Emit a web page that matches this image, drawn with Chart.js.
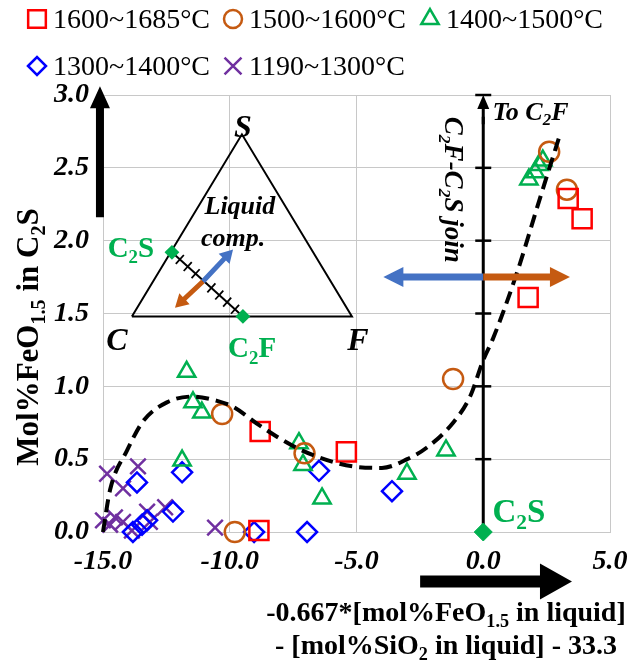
<!DOCTYPE html>
<html>
<head>
<meta charset="utf-8">
<script src="https://cdn.jsdelivr.net/npm/chart.js@4.4.0/dist/chart.umd.min.js"></script>
<style>
  body { margin: 0; background: #fff; }
  #wrap { width: 630px; height: 663px; }
</style>
</head>
<body>
<div id="wrap"><canvas id="chart"></canvas></div>
<script>
const SERIF = "'Liberation Serif', 'Times New Roman', serif";

// axis ticks
const xTickVals = [-15, -10, -5, 0, 5];
const yTickVals = [0, 0.5, 1, 1.5, 2, 2.5, 3];

// measured points, one pair of arrays per temperature range
const seriesNames = ["1600~1685°C", "1500~1600°C", "1400~1500°C", "1300~1400°C", "1190~1300°C"];

const t1600X = [-8.85, -8.8, -5.4, 1.77, 3.35, 3.9];
const t1600Y = [0.01, 0.69, 0.55, 1.61, 2.29, 2.15];

const t1500X = [-10.3, -9.8, -7.05, -1.19, 2.6, 3.3];
const t1500Y = [0.81, 0.0, 0.54, 1.05, 2.61, 2.35];

const t1400X = [-11.7, -11.45, -11.1, -11.88, -7.27, -7.11, -6.36, -3.01, -1.47, 1.8, 2.05, 2.2, 2.35];
const t1400Y = [1.10, 0.89, 0.82, 0.49, 0.61, 0.46, 0.23, 0.40, 0.56, 2.42, 2.47, 2.52, 2.55];

const t1300X = [-13.66, -11.88, -12.24, -13.46, -13.82, -13.26, -9.04, -6.95, -6.48, -3.6];
const t1300Y = [0.34, 0.41, 0.14, 0.05, 0.0, 0.08, 0.0, 0.0, 0.42, 0.28];

const t1190X = [-14.84, -13.62, -14.21, -15.0, -14.53, -14.21, -14.72, -13.86, -13.26, -13.15, -12.55, -10.58];
const t1190Y = [0.40, 0.45, 0.30, 0.08, 0.10, 0.07, 0.05, 0.01, 0.14, 0.07, 0.17, 0.03];

// dashed guide curve
const trendX = [-15.0, -14.72, -14.05, -13.42, -12.48, -11.45, -10.5, -9.87, -8.81, -7.5, -6.44, -5.14, -4.0, -3.0, -2.22, -1.19, -0.52, 0, 0.39, 1.33, 2.2, 3.03];
const trendY = [0.0, 0.29, 0.56, 0.76, 0.89, 0.93, 0.90, 0.86, 0.73, 0.59, 0.51, 0.45, 0.44, 0.50, 0.58, 0.75, 0.93, 1.18, 1.33, 1.78, 2.27, 2.73];

// inset ternary sketch (C, S, F corners) and the C2S / C2F points, in axis units
const triX = [-13.86, -9.52, -5.18, -13.86];
const triY = [1.48, 2.73, 1.48, 1.48];
const joinX = [-12.28, -9.48];
const joinY = [1.92, 1.48];

const seriesX = [t1600X, t1500X, t1400X, t1300X, t1190X];
const seriesY = [t1600Y, t1500Y, t1400Y, t1300Y, t1190Y];

const seriesStyles = [
  { color: "#FF0000", shape: "rect", r: 13.5, lr: 12.5 },
  { color: "#C55A11", shape: "circle", r: 10, lr: 9 },
  { color: "#00B050", shape: "triangle", r: 10, lr: 10 },
  { color: "#0000FF", shape: "rectRot", r: 10, lr: 9 },
  { color: "#7030A0", shape: "crossRot", r: 11, lr: 12 }
];
const GREEN = "#00B050";
const BLUE = "#4472C4";
const ORANGE = "#C55A11";

const pts = (xs, ys) => xs.map((x, i) => ({ x, y: ys[i] }));

function parseRich(str) {
  const segs = [];
  const re = /_([0-9.]+)/g;
  let last = 0, m;
  while ((m = re.exec(str))) {
    if (m.index > last) segs.push({ t: str.slice(last, m.index), sub: false });
    segs.push({ t: m[1], sub: true });
    last = re.lastIndex;
  }
  if (last < str.length) segs.push({ t: str.slice(last), sub: false });
  return segs;
}

// text with subscripts; (x, y) is the baseline anchor
function drawRich(ctx, str, x, y, o) {
  const segs = parseRich(str);
  const font = s => `${o.style || "normal"} ${o.weight || "bold"} ${s}px ${SERIF}`;
  const subSize = o.size * 0.65;
  let total = 0;
  segs.forEach(s => {
    ctx.font = font(s.sub ? subSize : o.size);
    s.w = ctx.measureText(s.t).width;
    total += s.w;
  });
  ctx.save();
  ctx.translate(x, y);
  if (o.rotate) ctx.rotate(o.rotate);
  ctx.fillStyle = o.color || "#000";
  ctx.textBaseline = "alphabetic";
  ctx.textAlign = "left";
  let cx = o.align === "center" ? -total / 2 : o.align === "right" ? -total : 0;
  segs.forEach(s => {
    ctx.font = font(s.sub ? subSize : o.size);
    ctx.fillText(s.t, cx, s.sub ? o.size * 0.22 : 0);
    cx += s.w;
  });
  ctx.restore();
}

function arrow(ctx, x0, y0, x1, y1, w, hl, hw, color) {
  const a = Math.atan2(y1 - y0, x1 - x0);
  const len = Math.hypot(x1 - x0, y1 - y0);
  ctx.save();
  ctx.translate(x0, y0);
  ctx.rotate(a);
  ctx.fillStyle = color;
  ctx.beginPath();
  ctx.moveTo(0, -w / 2);
  ctx.lineTo(len - hl, -w / 2);
  ctx.lineTo(len - hl, -hw / 2);
  ctx.lineTo(len, 0);
  ctx.lineTo(len - hl, hw / 2);
  ctx.lineTo(len - hl, w / 2);
  ctx.lineTo(0, w / 2);
  ctx.closePath();
  ctx.fill();
  ctx.restore();
}

const decorations = {
  id: "decorations",
  afterDatasetsDraw(chart) {
    const ctx = chart.ctx;
    const xs = chart.scales.x, ys = chart.scales.y;
    const px = v => xs.getPixelForValue(v);
    const py = v => ys.getPixelForValue(v);

    // hatch marks across the C2S-C2F join
    const ax = px(joinX[0]), ay = py(joinY[0]), bx = px(joinX[1]), by = py(joinY[1]);
    const len = Math.hypot(bx - ax, by - ay);
    const nx = -(by - ay) / len, ny = (bx - ax) / len;
    ctx.save();
    ctx.strokeStyle = "#000";
    ctx.lineWidth = 1.8;
    for (let k = 1; k <= 8; k++) {
      const t = k / 9;
      const cx = ax + (bx - ax) * t, cy = ay + (by - ay) * t;
      ctx.beginPath();
      ctx.moveTo(cx - nx * 6, cy - ny * 6);
      ctx.lineTo(cx + nx * 6, cy + ny * 6);
      ctx.stroke();
    }
    ctx.restore();

    // inset double arrow
    arrow(ctx, px(-11.06), py(1.72), px(-9.87), py(1.94), 5, 13, 15, BLUE);
    arrow(ctx, px(-11.06), py(1.72), px(-12.16), py(1.54), 5, 13, 15, ORANGE);

    // vertical join axis at x = 0 with tick marks and arrow head
    ctx.save();
    ctx.strokeStyle = "#000";
    ctx.lineWidth = 2.5;
    yTickVals.slice(1).forEach(v => {
      ctx.beginPath();
      ctx.moveTo(px(0) - 8, py(v));
      ctx.lineTo(px(0) + 8, py(v));
      ctx.stroke();
    });
    ctx.restore();
    arrow(ctx, px(0), py(2.8), px(0), py(3.0), 3, 14, 12, "#000");

    // horizontal double arrow
    arrow(ctx, px(0), py(1.75), px(-3.94), py(1.75), 7, 20, 20, BLUE);
    arrow(ctx, px(0), py(1.75), px(3.42), py(1.75), 7, 20, 20, ORANGE);

    // inset labels
    drawRich(ctx, "S", px(-9.48), py(2.71), { size: 32, style: "italic", align: "center" });
    drawRich(ctx, "C", px(-14.45), py(1.25), { size: 32, style: "italic", align: "center" });
    drawRich(ctx, "F", px(-4.94), py(1.25), { size: 32, style: "italic", align: "center" });
    drawRich(ctx, "C_2S", px(-13.9), py(1.89), { size: 29, align: "center", color: GREEN });
    drawRich(ctx, "C_2F", px(-9.12), py(1.2), { size: 29, align: "center", color: GREEN });
    drawRich(ctx, "Liquid", px(-9.6), py(2.18), { size: 26, style: "italic", align: "center" });
    drawRich(ctx, "comp.", px(-9.87), py(1.96), { size: 26, style: "italic", align: "center" });

    drawRich(ctx, "To C_2F", px(0.36), py(2.83), { size: 26, style: "italic" });
    drawRich(ctx, "C_2F-C_2S join", px(-1.51), py(2.85), { size: 27, style: "italic", rotate: Math.PI / 2 });
    drawRich(ctx, "C_2S", px(0.36), py(0.07), { size: 33, color: GREEN });

    // big direction arrows outside the plot
    arrow(ctx, px(-15.12), py(2.16), px(-15.12), py(3.06), 8, 22, 20, "#000");
    arrow(ctx, px(-2.49), py(-0.34), px(3.5), py(-0.34), 12, 32, 36, "#000");
  },
  afterDraw(chart) {
    const ctx = chart.ctx;
    // axis titles
    drawRich(ctx, "Mol%FeO_1.5 in C_2S", 38, 337, { size: 31, align: "center", rotate: -Math.PI / 2 });
    drawRich(ctx, "-0.667*[mol%FeO_1.5 in liquid]", 446, 621, { size: 28, align: "center" });
    drawRich(ctx, "- [mol%SiO_2 in liquid] - 33.3", 446, 654, { size: 28, align: "center" });

    // legend
    const slots = [[37, 19], [233, 19], [430, 19], [37, 66], [233, 66]];
    seriesNames.forEach((name, i) => {
      const st = seriesStyles[i];
      const [lx, ly] = slots[i];
      ctx.save();
      ctx.strokeStyle = st.color;
      ctx.fillStyle = "rgba(0,0,0,0)";
      ctx.lineWidth = 2.5;
      Chart.helpers.drawPoint(ctx, { pointStyle: st.shape, radius: st.lr, rotation: 0, borderWidth: 2.5 }, lx, ly);
      ctx.restore();
      ctx.save();
      ctx.font = `28px ${SERIF}`;
      ctx.fillStyle = "#000";
      ctx.textBaseline = "alphabetic";
      ctx.fillText(name, lx + 16, ly + 9);
      ctx.restore();
    });
  }
};

const markerSets = seriesNames.map((name, i) => ({
  label: name,
  data: pts(seriesX[i], seriesY[i]),
  pointStyle: seriesStyles[i].shape,
  pointRadius: seriesStyles[i].r,
  pointBorderColor: seriesStyles[i].color,
  pointBackgroundColor: "rgba(0,0,0,0)",
  pointBorderWidth: 2.5,
  showLine: false,
  clip: false,
  order: 2
}));

const guideLines = [
  {
    label: "trend",
    data: pts(trendX, trendY),
    showLine: true,
    borderColor: "#000",
    borderWidth: 4,
    borderDash: [13, 7],
    cubicInterpolationMode: "monotone",
    pointRadius: 0,
    clip: false,
    order: 0
  },
  {
    label: "triangle",
    data: pts(triX, triY),
    showLine: true,
    borderColor: "#000",
    borderWidth: 2,
    pointRadius: 0,
    clip: false,
    order: 3
  },
  {
    label: "join",
    data: pts(joinX, joinY),
    showLine: true,
    borderColor: "#000",
    borderWidth: 2,
    pointStyle: "rectRot",
    pointRadius: 6,
    pointBackgroundColor: GREEN,
    pointBorderColor: GREEN,
    clip: false,
    order: 1
  },
  {
    label: "axis",
    data: [{ x: 0, y: 0 }, { x: 0, y: 2.85 }],
    showLine: true,
    borderColor: "#000",
    borderWidth: 3,
    pointRadius: 0,
    clip: false,
    order: 1
  },
  {
    label: "C2S",
    data: [{ x: 0, y: 0 }],
    pointStyle: "rectRot",
    pointRadius: 9,
    pointBackgroundColor: GREEN,
    pointBorderColor: GREEN,
    clip: false,
    order: 0
  }
];

new Chart(document.getElementById("chart"), {
  type: "scatter",
  data: { datasets: [...guideLines, ...markerSets] },
  options: {
    responsive: true,
    maintainAspectRatio: false,
    animation: false,
    events: [],
    layout: { padding: { top: 95, right: 20, left: 0, bottom: 0 } },
    plugins: { legend: { display: false }, tooltip: { enabled: false } },
    scales: {
      x: {
        min: -15, max: 5,
        afterBuildTicks: s => { s.ticks = xTickVals.map(v => ({ value: v })); },
        afterFit: s => { s.height = 131; s.paddingLeft = 0; s.paddingRight = 0; },
        grid: { color: "#C8C8C8", lineWidth: 1, drawTicks: false },
        border: { color: "#C8C8C8" },
        ticks: {
          padding: 13,
          color: "#000",
          font: { family: SERIF, size: 28, weight: "bold", style: "italic" },
          callback: v => v.toFixed(1)
        }
      },
      y: {
        min: 0, max: 3,
        afterBuildTicks: s => { s.ticks = yTickVals.map(v => ({ value: v })); },
        afterFit: s => { s.width = 103; s.paddingTop = 0; s.paddingBottom = 0; },
        grid: { color: "#C8C8C8", lineWidth: 1, drawTicks: false },
        border: { color: "#C8C8C8" },
        ticks: {
          padding: 14,
          color: "#000",
          font: { family: SERIF, size: 28, weight: "bold", style: "italic" },
          callback: v => v.toFixed(1)
        }
      }
    }
  },
  plugins: [decorations]
});
</script>
</body>
</html>
